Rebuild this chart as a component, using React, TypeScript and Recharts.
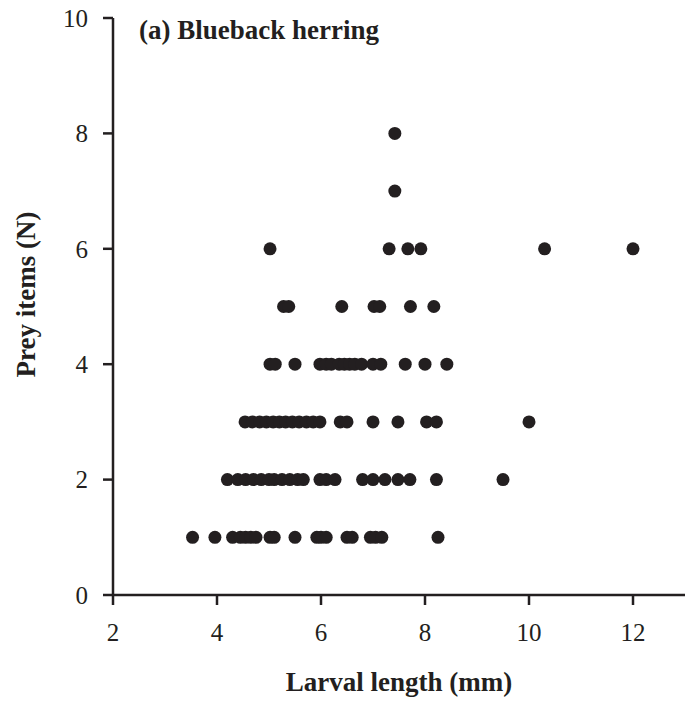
import { ScatterChart, Scatter, XAxis, YAxis } from 'recharts';

// larval length (mm) of each fish, grouped by number of prey items found
const preyCounts = [1, 2, 3, 4, 5, 6, 7, 8];
const lengths1 = [3.53, 3.96, 4.3, 4.45, 4.55, 4.65, 4.75, 5.02, 5.1, 5.5, 5.92, 6.0, 6.1, 6.5, 6.6, 6.95, 7.05, 7.17, 8.25];
const lengths2 = [4.2, 4.4, 4.55, 4.7, 4.85, 5.0, 5.1, 5.25, 5.4, 5.55, 5.66, 5.98, 6.1, 6.27, 6.8, 7.0, 7.23, 7.48, 7.71, 8.22, 9.5];
const lengths3 = [4.54, 4.68, 4.82, 4.95, 5.08, 5.2, 5.32, 5.45, 5.58, 5.72, 5.85, 5.98, 6.37, 6.5, 7.0, 7.48, 8.03, 8.22, 10.0];
const lengths4 = [5.02, 5.12, 5.5, 5.98, 6.1, 6.2, 6.35, 6.45, 6.55, 6.65, 6.78, 7.0, 7.15, 7.62, 8.0, 8.42];
const lengths5 = [5.28, 5.38, 6.4, 7.02, 7.13, 7.72, 8.17];
const lengths6 = [5.02, 7.31, 7.67, 7.92, 10.3, 12.0];
const lengths7 = [7.42];
const lengths8 = [7.42];

const xTicks = [2, 4, 6, 8, 10, 12];
const yTicks = [0, 2, 4, 6, 8, 10];

const groups = [lengths1, lengths2, lengths3, lengths4, lengths5, lengths6, lengths7, lengths8];
const points = groups.flatMap((lens, i) =>
  lens.map((length) => ({ length, prey: preyCounts[i] })),
);

const ink = '#231f20';
const font = '"Liberation Serif", "Times New Roman", serif';

const tickStyle = { fontSize: 25, fill: ink, fontFamily: font };
const labelStyle = { fontSize: 27, fontWeight: 'bold', fill: ink, fontFamily: font };

const Dot = (props: { cx?: number; cy?: number }) => (
  <circle cx={props.cx} cy={props.cy} r={6.5} fill={ink} />
);

export default function App() {
  return (
    <div style={{ position: 'fixed', left: 0, top: 0, width: 685, height: 706, background: '#fff' }}>
      <ScatterChart
        width={685}
        height={706}
        margin={{ top: 18, right: 0, left: 53, bottom: 51 }}
      >
        <XAxis
          type="number"
          dataKey="length"
          domain={[2, 13]}
          ticks={xTicks}
          allowDataOverflow
          height={60}
          stroke={ink}
          strokeWidth={2.5}
          tickSize={10}
          tickMargin={18}
          tick={tickStyle}
          label={{
            value: 'Larval length (mm)',
            position: 'bottom',
            offset: 17,
            style: labelStyle,
          }}
        />
        <YAxis
          type="number"
          dataKey="prey"
          domain={[0, 10]}
          ticks={yTicks}
          width={60}
          stroke={ink}
          strokeWidth={2.5}
          tickSize={10}
          tickMargin={15}
          tick={tickStyle}
          label={{
            value: 'Prey items (N)',
            content: (p: any) => {
              const vb = p.viewBox || { x: 53, y: 18, width: 60, height: 577 };
              const cx = 26;
              const cy = vb.y + vb.height / 2 - 12;
              return (
                <text
                  x={cx}
                  y={cy}
                  transform={`rotate(-90, ${cx}, ${cy})`}
                  textAnchor="middle"
                  dominantBaseline="central"
                  style={labelStyle}
                >
                  Prey items (N)
                </text>
              );
            },
          }}
        />
        <Scatter data={points} shape={<Dot />} isAnimationActive={false} />
      </ScatterChart>
      <div
        style={{
          position: 'absolute',
          left: 139,
          top: 14,
          fontFamily: font,
          fontWeight: 'bold',
          fontSize: 27,
          color: ink,
          lineHeight: '32px',
          whiteSpace: 'nowrap',
        }}
      >
        (a) Blueback herring
      </div>
    </div>
  );
}
